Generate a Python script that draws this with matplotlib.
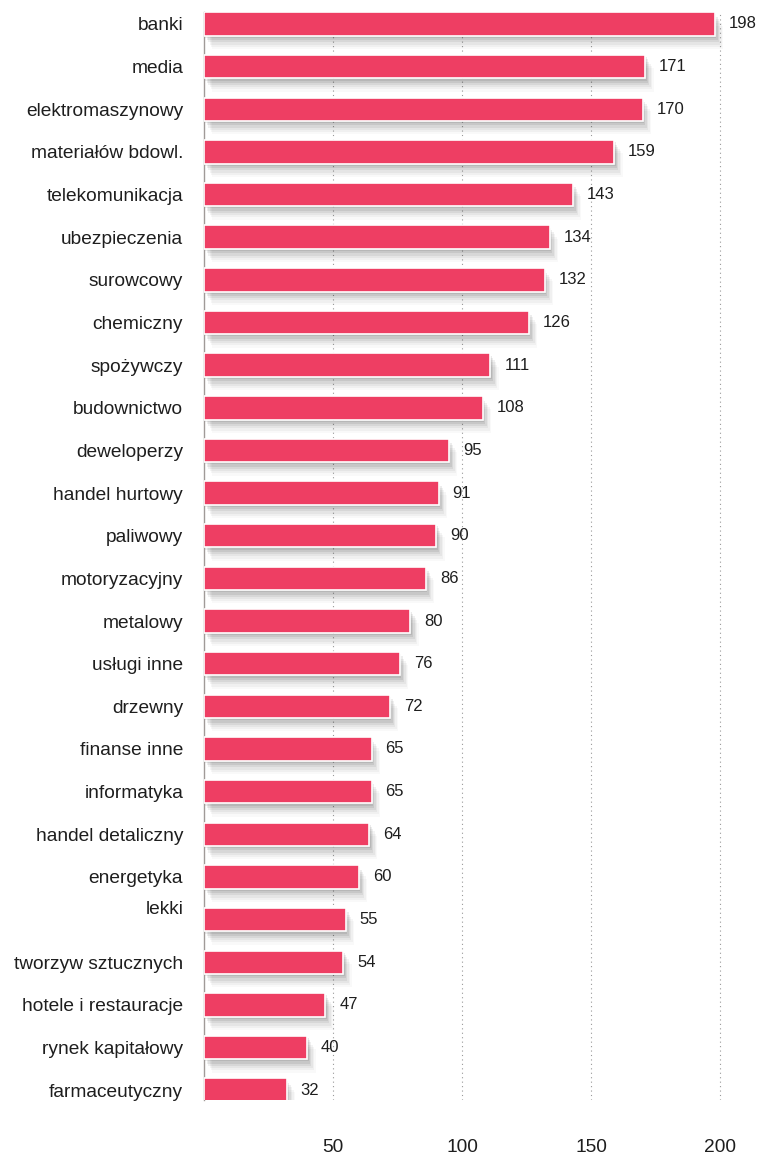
import matplotlib
matplotlib.use("Agg")
import matplotlib.pyplot as plt
import matplotlib.patheffects as pe
from matplotlib.transforms import ScaledTranslation

sectors = [
    "banki", "media", "elektromaszynowy", "materiałów bdowl.", "telekomunikacja",
    "ubezpieczenia", "surowcowy", "chemiczny", "spożywczy", "budownictwo",
    "deweloperzy", "handel hurtowy", "paliwowy", "motoryzacyjny", "metalowy",
    "usługi inne", "drzewny", "finanse inne", "informatyka", "handel detaliczny",
    "energetyka", "lekki", "tworzyw sztucznych", "hotele i restauracje",
    "rynek kapitałowy", "farmaceutyczny",
]
counts = [198, 171, 170, 159, 143, 134, 132, 126, 111, 108, 95, 91, 90, 86, 80,
          76, 72, 65, 65, 64, 60, 55, 54, 47, 40, 32]
x_ticks = [50, 100, 150, 200]

BAR_COLOR = "#EE3E63"
TEXT_COLOR = "#1e1e1e"
plt.rcParams["font.family"] = ["Liberation Sans", "DejaVu Sans"]

W, H = 757, 1162
fig = plt.figure(figsize=(W / 100, H / 100), dpi=100)
ax = fig.add_axes([204 / W, 1 - 1100 / H, 1 - 204 / W, (1100 - 12) / H])

ypos = list(range(len(sectors)))

# soft drop shadow: stacked translucent copies pushed down and right
shadow = [
    pe.SimplePatchShadow(offset=(o, -o * 1.6), shadow_rgbFace="#000000", alpha=a)
    for o, a in [(6, 0.025), (5, 0.035), (4, 0.045), (3, 0.06), (2, 0.07), (1, 0.08)]
] + [pe.Normal()]

bars = ax.barh(ypos, counts, height=0.55, color=BAR_COLOR, edgecolor="white",
               linewidth=1.2, zorder=3)
for b in bars:
    b.set_path_effects(shadow)

for y, v in zip(ypos, counts):
    ax.annotate(str(v), (v, y), xytext=(10, 0), textcoords="offset points",
                va="center", ha="left", fontsize=12, color=TEXT_COLOR)

ax.set_xlim(0, (W - 204) / 2.58)
ax.set_ylim(25.23, -0.28)

ax.set_yticks(ypos)
ax.set_yticklabels(sectors, fontsize=13.8, color=TEXT_COLOR)
ax.tick_params(axis="y", length=0, pad=15)
# "lekki" sits a little above its bar
for tick in ax.yaxis.get_major_ticks():
    if tick.label1.get_text() == "lekki":
        tick.label1.set_transform(tick.label1.get_transform() +
                                  ScaledTranslation(0, 0.12, fig.dpi_scale_trans))

ax.set_xticks(x_ticks)
ax.set_xticklabels([str(t) for t in x_ticks], fontsize=13.8, color=TEXT_COLOR)
ax.tick_params(axis="x", length=0, pad=28)

ax.grid(axis="x", linestyle=(0, (1, 3)), color="#999999", linewidth=0.8, zorder=0)
ax.spines[["top", "right", "bottom"]].set_visible(False)
ax.spines["left"].set_color("#a09a98")
ax.spines["left"].set_linewidth(1.0)

fig.savefig("out.png", dpi=100)
